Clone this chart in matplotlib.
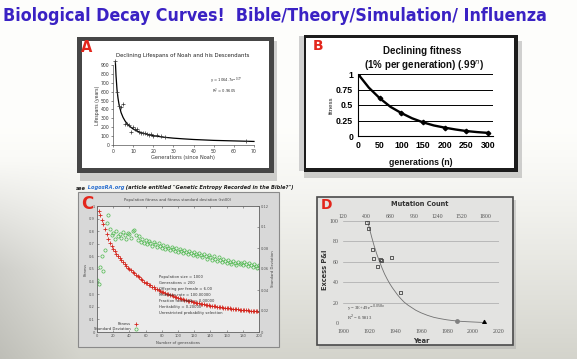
import numpy as np
import matplotlib
matplotlib.use('Agg')
import matplotlib.pyplot as plt
from matplotlib.patches import Rectangle
from matplotlib.lines import Line2D

W, H = 577, 359

# ---------------- data ----------------
title_text = "Biological Decay Curves!  Bible/Theory/Simulation/ Influenza"

# Panel A: lifespans of Noah and descendants
a_gen = [1, 2, 3, 4, 5, 6, 7, 8, 9, 10, 11, 12, 13, 14, 15, 16, 17, 18, 19, 20, 22, 24, 26, 66]
a_life = [950, 600, 438, 433, 464, 239, 239, 230, 148, 205, 175, 180, 147, 137, 133, 137,
          120, 110, 128, 100, 110, 96, 90, 45]
a_curve_x = [1.2, 1.5, 2, 2.5, 3, 4, 5, 6, 7, 8, 10, 12, 15, 18, 20, 25, 30, 35, 40, 45, 50, 55, 60, 65, 70]
a_curve_y = [925, 780, 620, 525, 455, 365, 310, 270, 240, 215, 180, 155, 132, 115, 105, 88, 77, 69,
             62, 57, 52, 49, 46, 43, 40]
a_xticks = [0, 10, 20, 30, 40, 50, 60, 70]
a_yticks = [0, 100, 200, 300, 400, 500, 600, 700, 800, 900]

# Panel B: declining fitness
b_n = [0, 50, 100, 150, 200, 250, 300]
b_fit = [1.0, 0.61, 0.37, 0.22, 0.135, 0.08, 0.05]
b_curve_n = [0, 25, 50, 75, 100, 125, 150, 175, 200, 225, 250, 275, 300]
b_curve = [1.0, 0.78, 0.61, 0.47, 0.37, 0.285, 0.22, 0.17, 0.135, 0.105, 0.08, 0.063, 0.05]
b_xticks = [0, 50, 100, 150, 200, 250, 300]
b_yticks = [0, 0.25, 0.5, 0.75, 1.0]
b_ylabels = ['0', '0.25', '0.5', '0.75', '1']

# Panel C: simulation (every 2 generations)
c_gen = list(range(0, 201, 2))
c_fit = [1.00, 0.96, 0.93, 0.89, 0.86, 0.82, 0.78, 0.74, 0.71, 0.68,
         0.66, 0.64, 0.62, 0.60, 0.585, 0.57, 0.555, 0.54, 0.525, 0.51,
         0.50, 0.49, 0.475, 0.465, 0.455, 0.445, 0.435, 0.42, 0.41, 0.40,
         0.39, 0.385, 0.375, 0.37, 0.36, 0.355, 0.345, 0.34, 0.33, 0.325,
         0.32, 0.315, 0.31, 0.305, 0.30, 0.295, 0.29, 0.285, 0.28, 0.276,
         0.272, 0.268, 0.264, 0.26, 0.256, 0.252, 0.249, 0.246, 0.243, 0.24,
         0.237, 0.234, 0.231, 0.228, 0.225, 0.222, 0.22, 0.217, 0.215, 0.212,
         0.21, 0.208, 0.206, 0.204, 0.202, 0.20, 0.198, 0.196, 0.194, 0.192,
         0.19, 0.188, 0.187, 0.185, 0.184, 0.182, 0.181, 0.179, 0.178, 0.176,
         0.175, 0.174, 0.172, 0.171, 0.17, 0.168, 0.167, 0.166, 0.165, 0.163, 0.162]
c_sd = [0.050, 0.046, 0.062, 0.072, 0.058, 0.078, 0.104, 0.111, 0.098, 0.092,
        0.094, 0.089, 0.096, 0.091, 0.093, 0.090, 0.095, 0.092, 0.089, 0.094,
        0.093, 0.090, 0.096, 0.097, 0.092, 0.088, 0.091, 0.086, 0.089, 0.085,
        0.088, 0.084, 0.087, 0.085, 0.082, 0.086, 0.084, 0.081, 0.085, 0.082,
        0.080, 0.083, 0.079, 0.082, 0.080, 0.078, 0.081, 0.079, 0.077, 0.080,
        0.076, 0.079, 0.077, 0.075, 0.078, 0.076, 0.074, 0.077, 0.075, 0.073,
        0.076, 0.074, 0.072, 0.075, 0.073, 0.071, 0.074, 0.072, 0.070, 0.073,
        0.071, 0.069, 0.072, 0.070, 0.068, 0.071, 0.069, 0.067, 0.070, 0.068,
        0.066, 0.069, 0.067, 0.065, 0.068, 0.066, 0.064, 0.067, 0.065, 0.066,
        0.064, 0.067, 0.065, 0.063, 0.066, 0.064, 0.062, 0.065, 0.063, 0.061, 0.064]
c_xticks = list(range(0, 201, 20))
c_yticks = [0, 0.1, 0.2, 0.3, 0.4, 0.5, 0.6, 0.7, 0.8, 0.9, 1.0]
c_ylabels = ['0', '0.1', '0.2', '0.3', '0.4', '0.5', '0.6', '0.7', '0.8', '0.9', '1']
c_y2ticks = [0, 0.02, 0.04, 0.06, 0.08, 0.1, 0.12]
c_y2labels = ['0', '0.02', '0.04', '0.06', '0.08', '0.1', '0.12']
c_info = ["Population size = 1000", "Generations = 200", "Offspring per female = 6.00",
          "Mutation rate = 100.00000", "Fraction favorable = 0.00000",
          "Heritability = 0.20000", "Unrestricted probability selection"]

# Panel D: influenza
d_year = [1918.5, 1919.7, 1922.6, 1923.6, 1926.4, 1929.0, 1929.6, 1937.2, 1944.0]
d_pi = [98.4, 92.8, 72.3, 62.9, 55.0, 62.0, 61.5, 63.8, 30.0]
d_circle_year = [1987.7]
d_circle_pi = [1.5]
d_tri_year = [2008.5]
d_tri_pi = [0.5]
d_curve_year = [1919, 1920, 1922, 1924, 1926, 1928, 1930, 1932, 1934, 1936, 1938, 1940, 1942,
                1944, 1947, 1950, 1953, 1956, 1960, 1965, 1970, 1975, 1980, 1985, 1990, 1995,
                2000, 2005, 2010]
d_curve = [100, 94.5, 84.5, 75.5, 67.5, 60.5, 54, 48, 43, 38.5, 34.5, 31, 27.5,
           24.5, 20.5, 17.5, 15, 12.5, 10, 7.5, 5.5, 4.2, 3.1, 2.3, 1.7, 1.3, 1.0, 0.7, 0.5]
d_xticks = [1900, 1920, 1940, 1960, 1980, 2000, 2020]
d_yticks = [0, 20, 40, 60, 80, 100]
d_top_ticks = [120, 400, 680, 960, 1240, 1520, 1800]

# ---------------- helpers ----------------
fig = plt.figure(figsize=(W / 100, H / 100), dpi=100)
RED = '#e3261c'


def box(l, t, r, b):
    return [l / W, 1 - b / H, (r - l) / W, (b - t) / H]


def rect(l, t, r, b, **kw):
    p = Rectangle((l / W, 1 - b / H), (r - l) / W, (b - t) / H,
                  transform=fig.transFigure, figure=fig, zorder=-5, **kw)
    fig.patches.append(p)
    return p


def ftext(x, y, s, **kw):
    kw.setdefault('ha', 'center')
    kw.setdefault('va', 'center')
    return fig.text(x / W, 1 - y / H, s, **kw)


# ---------------- background ----------------
bg = fig.add_axes([0, 0, 1, 1], zorder=-10)
yy = np.linspace(0, 1, H)[:, None, None]
xx = np.linspace(0, 1, W)[None, :, None]
top = np.array([0.995, 0.995, 0.985])
bot = np.array([0.83, 0.83, 0.80])
t = np.clip((yy - 0.35) / 0.65, 0, 1) ** 1.2
img = top * (1 - t) + bot * t
img = img * (1 - 0.10 * np.clip(1 - xx / 0.14, 0, 1) * np.clip((yy - 0.45) / 0.3, 0, 1))
img = np.broadcast_to(img, (H, W, 3))
bg.imshow(img, aspect='auto', extent=[0, 1, 0, 1])
bg.axis('off')

# ---------------- title ----------------
tt = ftext(3, 16, title_text, ha='left', fontsize=12, fontweight='bold',
           color='#3a22c4', family='DejaVu Sans', fontstretch='condensed')
r = fig.canvas.get_renderer()
w = tt.get_window_extent(r).width
tt.set_fontsize(12 * 542 / w)

# ---------------- Panel A ----------------
rect(80, 41, 277, 181, fc='#9a9a9a', alpha=0.45, lw=0)
rect(77, 37, 274, 173, fc='#464646', lw=0)
rect(82, 41, 269, 168, fc='white', lw=0)
axA = fig.add_axes(box(113, 65, 254, 145))
axA.set_facecolor('none')
axA.plot(a_curve_x, a_curve_y, color='black', lw=0.9, clip_on=False)
axA.plot(a_gen, a_life, ls='none', marker='+', ms=2.2, mew=0.5, color='#333333', clip_on=False)
axA.set_xlim(0, 70)
axA.set_ylim(0, 900)
axA.set_xticks(a_xticks)
axA.set_yticks(a_yticks)
for s in ['top', 'right']:
    axA.spines[s].set_visible(False)
for s in ['left', 'bottom']:
    axA.spines[s].set_linewidth(0.5)
    axA.spines[s].set_color('#555555')
axA.tick_params(labelsize=3.3, length=1.2, width=0.4, pad=1.5, colors='#333333')
ftext(183, 56, 'Declining Lifespans of Noah and his Descendants', fontsize=3.9, color='#222222')
ftext(183, 158, 'Generations (since Noah)', fontsize=3.6, color='#333333')
ftext(98, 105, 'Lifespans (years)', fontsize=3.3, rotation=90, color='#333333')
ftext(210, 81, 'y = 1064.7x$^{-0.77}$', ha='left', fontsize=2.7, color='#333333')
ftext(212, 91, 'R$^2$ = 0.9605', ha='left', fontsize=2.7, color='#333333')
ftext(87, 47, 'A', fontsize=10.5, fontweight='bold', color=RED)

# ---------------- Panel B ----------------
rect(304, 41, 522, 178, fc='#9a9a9a', alpha=0.45, lw=0)
rect(299, 36, 306, 171, fc='#d0d0d0', lw=0)
rect(304, 35, 518, 172, fc='#1c1c1c', lw=0)
rect(306, 38, 514, 168, fc='white', lw=0)
axB = fig.add_axes(box(358, 74, 493, 136))
axB.set_facecolor('none')
for yv in b_yticks[1:]:
    axB.axhline(yv, color='black', lw=0.7)
axB.plot(b_curve_n, b_curve, color='black', lw=1.7, solid_capstyle='round')
axB.plot(b_n, b_fit, ls='none', marker='D', ms=2.3, color='black')
axB.set_xlim(0, 311.5)
axB.set_ylim(0, 1)
axB.set_xticks(b_xticks)
axB.set_yticks(b_yticks)
axB.set_yticklabels(b_ylabels)
for s in ['top', 'right']:
    axB.spines[s].set_visible(False)
for s in ['left', 'bottom']:
    axB.spines[s].set_linewidth(0.8)
    axB.spines[s].set_color('black')
axB.tick_params(length=0, pad=3.5)
for lab in axB.get_xticklabels() + axB.get_yticklabels():
    lab.set_fontsize(6.3)
    lab.set_fontweight('bold')
    lab.set_family('Liberation Sans')
ftext(422, 51, 'Declining fitness', fontsize=7, fontweight='bold', family='Liberation Sans', color='#111111')
ftext(424, 66, '(1% per generation) (.99$^{n}$)', fontsize=7, fontweight='bold',
      family='Liberation Sans', color='#111111')
ftext(331, 105, 'fitness', fontsize=4.3, rotation=90, family='Liberation Sans', color='#222222')
ftext(421, 162, 'generations (n)', fontsize=6.3, fontweight='bold', family='Liberation Sans',
      color='#111111')
ftext(318, 46, 'B', fontsize=10, fontweight='bold', color=RED)

# ---------------- Panel C ----------------
x0 = 76
for s, col in [('see', '#222222'), (' LogosRA.org', '#2a6fd0'),
               (' (article entitled "Genetic Entropy Recorded in the Bible?")', '#222222')]:
    tx = ftext(x0, 188, s, ha='left', fontsize=3.7, style='italic', fontweight='bold', color=col)
    x0 += tx.get_window_extent(r).width

rect(78, 192, 279, 347, fc='#d8d8d8', ec='#8a8a8a', lw=0.8)
axC = fig.add_axes(box(97, 206, 259, 332))
axC.set_facecolor('#ececec')
axC.plot(c_gen, c_fit, ls='none', marker='+', ms=2.6, mew=0.6, color='#d4261e')
axC.set_xlim(0, 200)
axC.set_ylim(0, 1)
axC.set_xticks(c_xticks)
axC.set_yticks(c_yticks)
axC.set_yticklabels(c_ylabels)
axC2 = axC.twinx()
axC2.plot(c_gen, c_sd, ls='none', marker='o', ms=2.3, mfc='none', mec='#4cb84c', mew=0.5)
axC2.set_ylim(0, 0.12)
axC2.set_yticks(c_y2ticks)
axC2.set_yticklabels(c_y2labels)
for a in (axC, axC2):
    for s in a.spines.values():
        s.set_linewidth(0.5)
        s.set_color('#6a6a6a')
    a.tick_params(labelsize=2.6, length=1.5, width=0.4, pad=1.5, colors='#555555', direction='in')
axC.tick_params(top=True)
ftext(178, 200, 'Population fitness and fitness standard deviation (tst00)', fontsize=2.7, color='#444444')
ftext(178, 343, 'Number of generations', fontsize=2.7, color='#444444')
ftext(86, 269, 'Fitness', fontsize=2.7, rotation=90, color='#444444')
ftext(273, 269, 'Standard Deviation', fontsize=2.7, rotation=90, color='#444444')
for i, line in enumerate(c_info):
    ftext(159, 277 + 6 * i, line, ha='left', fontsize=2.7, color='#333333')
ftext(131, 324, 'Fitness', ha='right', fontsize=2.7, color='#333333')
ftext(131, 329, 'Standard Deviation', ha='right', fontsize=2.7, color='#333333')
fig.add_artist(Line2D([136 / W], [1 - 324 / H], marker='+', ms=2.6, mew=0.6, color='#d4261e',
                      transform=fig.transFigure))
fig.add_artist(Line2D([136 / W], [1 - 329 / H], marker='o', ms=2.3, mfc='none', mec='#4cb84c',
                      mew=0.5, transform=fig.transFigure))
ftext(87, 204, 'C', fontsize=12, fontweight='bold', color=RED)

# ---------------- Panel D ----------------
rect(319, 200, 516, 349, fc='#a0a0a0', alpha=0.4, lw=0)
rect(317, 197, 513, 345, fc='#e3e3e1', ec='#4a4a4a', lw=1.2)
axD = fig.add_axes(box(343, 221, 499, 323))
axD.set_facecolor('none')
for yv in d_yticks:
    axD.axhline(yv, color='#a8a8a8', lw=0.5, zorder=0)
axD.plot(d_curve_year, d_curve, color='#707070', lw=0.6)
axD.scatter(d_year, d_pi, marker='s', s=5, facecolors='none', edgecolors='#444444', linewidths=0.6, zorder=3)
axD.scatter(d_circle_year, d_circle_pi, marker='o', s=6, color='#808080', zorder=3)
axD.scatter(d_tri_year, d_tri_pi, marker='^', s=8, color='black', zorder=3)
axD.set_xlim(1900, 2020)
axD.set_ylim(0, 100)
axD.set_xticks(d_xticks)
axD.set_yticks(d_yticks)
for s in axD.spines.values():
    s.set_visible(False)
axD.tick_params(length=0, labelsize=4.2, colors='#555555')
axD.tick_params(axis='x', pad=4)
axD.tick_params(axis='y', pad=3)
axT = axD.twiny()
axT.set_xlim(120, 1966)
axT.set_xticks(d_top_ticks)
for s in axT.spines.values():
    s.set_visible(False)
axT.tick_params(length=0, pad=1.5, labelsize=4.2, colors='#555555')
for lab in axD.get_xticklabels() + axD.get_yticklabels() + axT.get_xticklabels():
    lab.set_family('Liberation Serif')
ftext(420, 204, 'Mutation Count', fontsize=4.8, fontweight='bold', color='#333333')
ftext(421, 341, 'Year', fontsize=4.8, fontweight='bold', color='#333333')
ftext(325, 270, 'Excess P&I', fontsize=4.8, fontweight='bold', rotation=90, color='#333333')
ftext(347, 308, 'y = 3E+49e$^{-0.058x}$', ha='left', fontsize=3.4, color='#444444', family='Liberation Serif')
ftext(347, 317, 'R$^2$ = 0.9813', ha='left', fontsize=3.4, color='#444444', family='Liberation Serif')
ftext(327, 205, 'D', fontsize=10, fontweight='bold', color=RED)

fig.savefig('out.png', dpi=100)
